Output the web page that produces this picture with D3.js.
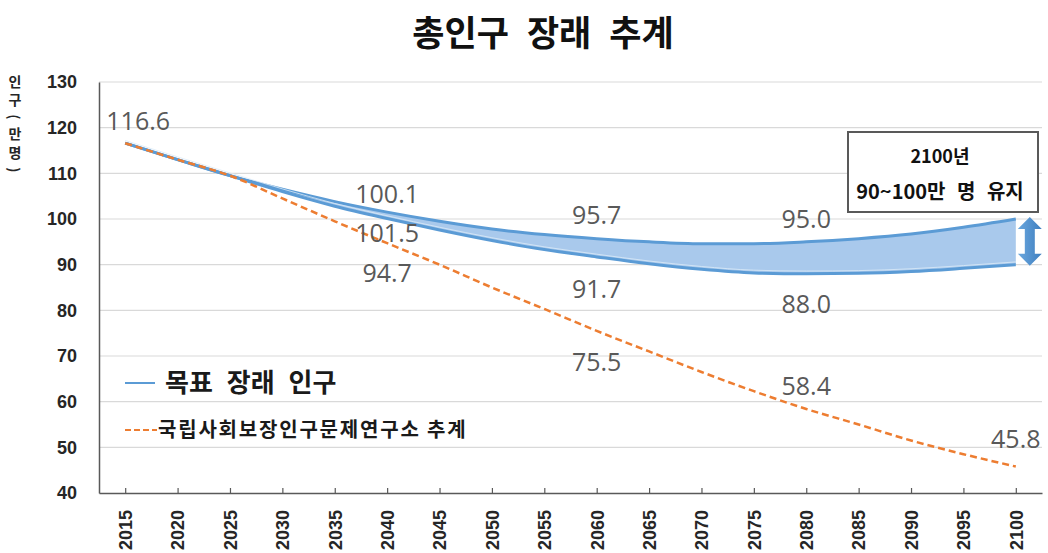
<!DOCTYPE html>
<html>
<head>
<meta charset="utf-8">
<script src="https://cdn.jsdelivr.net/npm/d3@7"></script>
<style>
  body { margin: 0; background: #fff; }
  svg { display: block; }
</style>
</head>
<body>
<div id="chart"></div>
<script>
// years on the x axis
const years = [2015, 2020, 2025, 2030, 2035, 2040, 2045, 2050, 2055, 2060,
               2065, 2070, 2075, 2080, 2085, 2090, 2095, 2100];

// target population band (upper / lower edge), unit: 10,000 people
const targetUpper = [116.6, 113.0, 109.5, 106.5, 103.8, 101.5, 99.5, 97.8, 96.6, 95.7,
                     95.0, 94.6, 94.6, 95.0, 95.7, 96.7, 98.2, 100.0];
const targetLower = [116.6, 113.0, 109.5, 106.0, 102.8, 100.1, 97.6, 95.3, 93.3, 91.7,
                     90.2, 89.0, 88.2, 88.0, 88.1, 88.5, 89.2, 90.0];

// national institute projection (orange dashed)
const projection = [116.6, 113.0, 109.5, 104.5, 99.5, 94.7, 90.0, 85.0, 80.3, 75.5,
                    71.0, 66.5, 62.3, 58.4, 55.0, 51.5, 48.5, 45.8];

const yTicks = [40, 50, 60, 70, 80, 90, 100, 110, 120, 130];

// value labels as they appear on the chart: [year, value, text]
const valueLabels = [
  [2015, 119.5, "116.6"],
  [2040, 103.5, "100.1"],
  [2040, 95.0, "101.5"],
  [2040, 86.3, "94.7"],
  [2060, 99.0, "95.7"],
  [2060, 82.8, "91.7"],
  [2060, 66.8, "75.5"],
  [2080, 98.0, "95.0"],
  [2080, 79.5, "88.0"],
  [2080, 61.5, "58.4"],
  [2100, 49.8, "45.8"]
];

// y axis title, one glyph per row; brackets are turned sideways
const yTitleChars = ["인", "구", "(", "만", "명", ")"];

const svgWidth = 1048;
const svgHeight = 553;

const margin = { top: 82, right: 6, bottom: 60, left: 99 };

const svg = d3.select("#chart")
  .append("svg")
  .attr("width", svgWidth)
  .attr("height", svgHeight);

const xScale = d3.scalePoint()
  .domain(years)
  .range([margin.left, svgWidth - margin.right])
  .padding(0.5);

const yScale = d3.scaleLinear()
  .domain([40, 130])
  .range([svgHeight - margin.bottom, margin.top]);

const bold = "'Noto Sans CJK KR', sans-serif";
const numFont = "'Liberation Sans', Arial, sans-serif";

// title
svg.append("text")
  .attr("x", 543)
  .attr("y", 46)
  .attr("text-anchor", "middle")
  .attr("font-family", bold)
  .attr("font-weight", 700)
  .attr("font-size", 35)
  .attr("word-spacing", 10)
  .attr("fill", "#111")
  .text("총인구 장래 추계");

// gridlines
svg.append("g")
  .selectAll("line")
  .data(yTicks.filter(d => d > 40))
  .enter().append("line")
  .attr("x1", margin.left)
  .attr("x2", svgWidth - margin.right)
  .attr("y1", d => yScale(d))
  .attr("y2", d => yScale(d))
  .attr("stroke", "#d9d9d9")
  .attr("stroke-width", 1.2);

// y axis
const leftAxis = d3.axisLeft(yScale).tickValues(yTicks).tickSize(0).tickPadding(22);
const yAxisG = svg.append("g")
  .attr("transform", `translate(${margin.left},0)`)
  .call(leftAxis);
yAxisG.select(".domain").attr("stroke", "#595959").attr("stroke-width", 1.5);
yAxisG.selectAll("text")
  .attr("font-family", numFont)
  .attr("font-weight", 700)
  .attr("font-size", 18)
  .attr("fill", "#262626");

// x axis
const bottomAxis = d3.axisBottom(xScale).tickSize(0);
const xAxisG = svg.append("g")
  .attr("transform", `translate(0,${yScale(40)})`)
  .call(bottomAxis);
xAxisG.select(".domain").attr("stroke", "#595959").attr("stroke-width", 1.5);
xAxisG.selectAll(".tick").append("line")
  .attr("y1", 1)
  .attr("y2", -5)
  .attr("stroke", "#595959")
  .attr("stroke-width", 1.2);
xAxisG.selectAll("text")
  .attr("font-family", numFont)
  .attr("font-weight", 700)
  .attr("font-size", 18)
  .attr("fill", "#262626")
  .attr("text-anchor", "end")
  .attr("dy", "0.35em")
  .attr("transform", "translate(0,17) rotate(-90)")
  .attr("x", 0)
  .attr("y", 0);

// y axis title (vertical, stacked glyphs)
const yTitleSteps = [0, 18, 36, 52, 71, 89];
svg.append("g")
  .selectAll("text")
  .data(yTitleChars)
  .enter().append("text")
  .attr("text-anchor", "middle")
  .attr("dominant-baseline", "central")
  .attr("font-family", bold)
  .attr("font-weight", 700)
  .attr("font-size", 14)
  .attr("fill", "#262626")
  .attr("transform", (d, i) => {
    const y = 81 + yTitleSteps[i];
    return (d === "(" || d === ")") ? `translate(15,${y}) rotate(90)` : `translate(15,${y})`;
  })
  .text(d => d);

// blue band
const band = d3.area()
  .x((d, i) => xScale(years[i]))
  .y0((d, i) => yScale(targetLower[i]))
  .y1((d, i) => yScale(targetUpper[i]))
  .curve(d3.curveMonotoneX);

const lineOf = d3.line()
  .x((d, i) => xScale(years[i]))
  .y(d => yScale(d))
  .curve(d3.curveMonotoneX);

svg.append("path")
  .datum(targetUpper)
  .attr("d", band)
  .attr("fill", "#a9c9ec");

svg.append("path")
  .datum(targetUpper)
  .attr("d", lineOf)
  .attr("fill", "none")
  .attr("stroke", "#5b9bd5")
  .attr("stroke-width", 3);

svg.append("path")
  .datum(targetLower)
  .attr("d", lineOf)
  .attr("fill", "none")
  .attr("stroke", "#5b9bd5")
  .attr("stroke-width", 3);

svg.append("path")
  .datum(targetLower.map(v => v + 0.6))
  .attr("d", lineOf)
  .attr("fill", "none")
  .attr("stroke", "#dcebf8")
  .attr("stroke-width", 0.8);

// orange dashed projection
svg.append("path")
  .datum(projection)
  .attr("d", lineOf)
  .attr("fill", "none")
  .attr("stroke", "#ed7d31")
  .attr("stroke-width", 2.5)
  .attr("stroke-dasharray", "7,4");

// value labels
svg.append("g")
  .selectAll("text")
  .data(valueLabels)
  .enter().append("text")
  .attr("x", d => xScale(d[0]) + (d[0] === 2015 ? 13 : 0))
  .attr("y", d => yScale(d[1]))
  .attr("text-anchor", "middle")
  .attr("font-family", "'Open Sans', sans-serif")
  .attr("font-size", 25)
  .attr("fill", "#595959")
  .text(d => d[2]);

// double arrow at 2100
const ax = xScale(2100) + 14;
const aTop = yScale(100) - 2;
const aBot = yScale(90) + 1;
const hw = 12, hh = 12, sw = 5;
const grad = svg.append("defs").append("linearGradient")
  .attr("id", "arrowGrad")
  .attr("x1", 0).attr("x2", 1).attr("y1", 0).attr("y2", 0);
grad.append("stop").attr("offset", "0%").attr("stop-color", "#6aa7de");
grad.append("stop").attr("offset", "100%").attr("stop-color", "#3f7fc0");
svg.append("path")
  .attr("d", `M${ax},${aTop} L${ax + hw},${aTop + hh} L${ax + sw},${aTop + hh}
              L${ax + sw},${aBot - hh} L${ax + hw},${aBot - hh} L${ax},${aBot}
              L${ax - hw},${aBot - hh} L${ax - sw},${aBot - hh} L${ax - sw},${aTop + hh}
              L${ax - hw},${aTop + hh} Z`)
  .attr("fill", "url(#arrowGrad)");

// annotation box
svg.append("rect")
  .attr("x", 848)
  .attr("y", 132)
  .attr("width", 190)
  .attr("height", 80)
  .attr("fill", "#fff")
  .attr("stroke", "#595959")
  .attr("stroke-width", 2);
svg.append("text")
  .attr("x", 940)
  .attr("y", 163)
  .attr("text-anchor", "middle")
  .attr("font-family", bold)
  .attr("font-weight", 700)
  .attr("font-size", 18)
  .attr("fill", "#111")
  .text("2100년");
svg.append("text")
  .attr("x", 940)
  .attr("y", 199)
  .attr("text-anchor", "middle")
  .attr("font-family", bold)
  .attr("font-weight", 700)
  .attr("font-size", 20)
  .attr("word-spacing", 7)
  .attr("fill", "#111")
  .text("90~100만 명 유지");

// legend
const legend = svg.append("g");
legend.append("line")
  .attr("x1", 125).attr("x2", 155)
  .attr("y1", 383).attr("y2", 383)
  .attr("stroke", "#5b9bd5")
  .attr("stroke-width", 2);
legend.append("text")
  .attr("x", 165)
  .attr("y", 392)
  .attr("font-family", bold)
  .attr("font-weight", 700)
  .attr("font-size", 26)
  .attr("word-spacing", 8)
  .attr("fill", "#1a1a1a")
  .text("목표 장래 인구");
legend.append("line")
  .attr("x1", 125).attr("x2", 157)
  .attr("y1", 430).attr("y2", 430)
  .attr("stroke", "#ed7d31")
  .attr("stroke-width", 2)
  .attr("stroke-dasharray", "6,3");
legend.append("text")
  .attr("x", 158)
  .attr("y", 437)
  .attr("font-family", bold)
  .attr("font-weight", 700)
  .attr("font-size", 20)
  .attr("letter-spacing", 1.8)
  .attr("fill", "#1a1a1a")
  .text("국립사회보장인구문제연구소 추계");
</script>
</body>
</html>
